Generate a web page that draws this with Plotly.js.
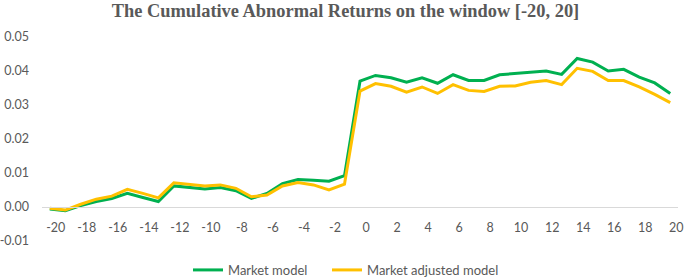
<!DOCTYPE html>
<html>
<head>
<meta charset="utf-8">
<script src="https://cdn.plot.ly/plotly-3.0.1.min.js"></script>
<style>html,body{margin:0;padding:0;background:#fff;}#chart{width:685px;height:279px;}</style>
</head>
<body>
<div id="chart"></div>
<script>
// Event days
const days = [-20,-19,-18,-17,-16,-15,-14,-13,-12,-11,-10,-9,-8,-7,-6,-5,-4,-3,-2,-1,0,1,2,3,4,5,6,7,8,9,10,11,12,13,14,15,16,17,18,19,20];
// Market model CAR
const marketModel = [-0.0006,-0.0011,0.0004,0.0016,0.0025,0.0040,0.0028,0.0016,0.0062,0.0057,0.0053,0.0057,0.0048,0.0025,0.0040,0.0069,0.0081,0.0079,0.0076,0.0092,
  0.0370,0.0387,0.0380,0.0367,0.0380,0.0364,0.0389,0.0372,0.0372,0.0389,0.0392,0.0395,0.0400,0.0390,0.0437,0.0426,0.0400,0.0405,0.0382,0.0365,0.0334];
// Market adjusted model CAR
const marketAdjusted = [-0.0004,-0.0009,0.0008,0.0023,0.0032,0.0052,0.0040,0.0027,0.0071,0.0066,0.0062,0.0065,0.0055,0.0030,0.0035,0.0062,0.0072,0.0065,0.0050,0.0067,
  0.0341,0.0363,0.0355,0.0338,0.0353,0.0334,0.0360,0.0343,0.0340,0.0355,0.0356,0.0367,0.0372,0.0360,0.0408,0.0399,0.0372,0.0372,0.0353,0.0331,0.0307];
// Tick labels
const xTickVals = [-20,-18,-16,-14,-12,-10,-8,-6,-4,-2,0,2,4,6,8,10,12,14,16,18,20];
const xTickText = ["-20","-18","-16","-14","-12","-10","-8","-6","-4","-2","0","2","4","6","8","10","12","14","16","18","20"];
const yTickVals = [-0.01,0,0.01,0.02,0.03,0.04,0.05];
const yTickText = ["-0.01","0.00","0.01","0.02","0.03","0.04","0.05"];

const font = "Lato, Carlito, Calibri, 'Open Sans', sans-serif";
const legendFont = {family: font, size: 13, color: '#595959'};
const traces = [
  {x: days, y: marketModel, type: 'scatter', mode: 'lines', name: 'Market model',
   line: {color: '#00B050', width: 3}, legend: 'legend'},
  {x: days, y: marketAdjusted, type: 'scatter', mode: 'lines', name: 'Market adjusted model',
   line: {color: '#FFC000', width: 3}, legend: 'legend2'}
];
const layout = {
  width: 685, height: 279,
  margin: {l: 42, r: 7, t: 37, b: 38, autoexpand: false},
  paper_bgcolor: '#fff', plot_bgcolor: '#fff',
  font: {family: font, size: 12, color: '#595959'},
  title: {text: 'The Cumulative Abnormal Returns on the window [-20, 20]',
    font: {family: "'Liberation Serif', 'Times New Roman', serif", size: 18.4, color: '#595959', weight: 'bold'},
    x: 345.5/685, xref: 'container', xanchor: 'center', y: 1 - 11/279, yref: 'container', yanchor: 'middle'},
  xaxis: {
    type: 'linear', range: [-20.5, 20.5], anchor: 'free', position: 1/6,
    tickmode: 'array', tickvals: xTickVals, ticktext: xTickText, tickangle: 0,
    showgrid: false, zeroline: false, showline: true, linecolor: '#d9d9d9', linewidth: 1,
    ticks: '', ticklabelstandoff: 9, ticklabelshift: 6, automargin: false,
    tickfont: {family: font, size: 12.5, color: '#595959'}, fixedrange: true
  },
  yaxis: {
    range: [-0.01, 0.05], domain: [0, 1],
    tickmode: 'array', tickvals: yTickVals, ticktext: yTickText,
    showgrid: false, zeroline: false, showline: false, ticks: '', automargin: false,
    ticklabelstandoff: 12,
    tickfont: {family: font, size: 12.5, color: '#595959'}, fixedrange: true
  },
  showlegend: true,
  legend: {orientation: 'h', x: 188/685, xref: 'container', xanchor: 'left', y: -0.142, yanchor: 'middle',
    font: legendFont, bgcolor: 'rgba(0,0,0,0)'},
  legend2: {orientation: 'h', x: 327/685, xref: 'container', xanchor: 'left', y: -0.142, yanchor: 'middle',
    font: legendFont, bgcolor: 'rgba(0,0,0,0)'}
};
Plotly.newPlot('chart', traces, layout, {displayModeBar: false, staticPlot: true});
</script>
</body>
</html>
